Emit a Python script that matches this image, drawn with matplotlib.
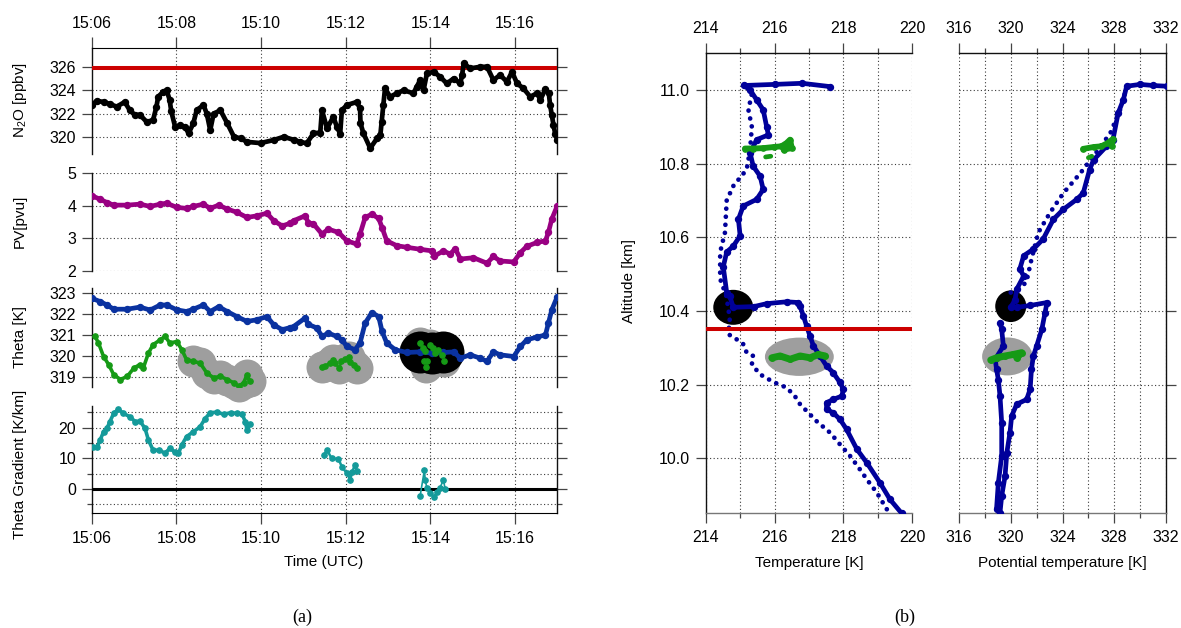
import numpy as np
import matplotlib
matplotlib.use('Agg')
import matplotlib.pyplot as plt
from matplotlib.patches import Ellipse
from matplotlib.ticker import MultipleLocator, FormatStrFormatter

plt.rcParams['font.family'] = ['Liberation Sans', 'DejaVu Sans']
plt.rcParams['mathtext.fontset'] = 'custom'
plt.rcParams['mathtext.rm'] = 'Liberation Sans'
plt.rcParams['mathtext.default'] = 'regular'

# ---------------- data: time series (minutes after 15:00 UTC) ----------------
time_ticks = [6, 8, 10, 12, 14, 16]
time_labels = ['15:06', '15:08', '15:10', '15:12', '15:14', '15:16']

n2o_t = [6.00, 6.12, 6.28, 6.43, 6.59, 6.78, 6.90, 7.02, 7.14, 7.30, 7.45, 7.53, 7.57,
         7.69, 7.77, 7.84, 7.88, 7.97, 8.09, 8.20, 8.29, 8.40, 8.48, 8.64, 8.72, 8.80,
         8.88, 9.04, 9.20, 9.36, 9.52, 9.67, 9.99, 10.30, 10.54, 10.78, 10.93, 11.08,
         11.24, 11.40, 11.44, 11.56, 11.71, 11.79, 11.87, 11.91, 12.03, 12.26, 12.34,
         12.35, 12.42, 12.58, 12.74, 12.82, 12.85, 12.89, 12.93, 13.05, 13.21, 13.37,
         13.60, 13.68, 13.76, 13.84, 13.92, 14.08, 14.23, 14.39, 14.55, 14.71, 14.75,
         14.79, 14.94, 15.18, 15.34, 15.49, 15.65, 15.81, 15.93, 16.05, 16.20, 16.36,
         16.52, 16.60, 16.72, 16.80, 16.83, 16.87, 16.91, 16.95, 17.00]
n2o_v = [322.74, 323.10, 323.00, 322.83, 322.60, 323.00, 322.30, 321.90, 321.90, 321.30,
         321.46, 322.60, 323.45, 323.87, 324.00, 323.20, 322.20, 320.90, 321.00, 320.90,
         320.33, 321.18, 322.30, 322.74, 322.00, 320.60, 322.00, 322.30, 321.20, 320.04,
         319.90, 319.60, 319.50, 319.76, 320.04, 319.76, 319.60, 319.48, 320.33, 320.40,
         322.30, 320.76, 321.74, 320.90, 320.30, 322.30, 322.74, 323.00, 322.46, 321.18,
         320.33, 319.06, 319.90, 320.20, 321.30, 322.74, 324.16, 323.45, 323.74, 324.00,
         323.74, 324.30, 324.87, 324.00, 325.44, 325.57, 325.15, 324.58, 325.00, 324.58,
         325.30, 326.30, 325.86, 326.00, 326.00, 324.87, 325.30, 324.72, 325.57, 324.58,
         324.16, 323.45, 323.74, 323.20, 324.10, 323.74, 322.74, 321.90, 321.04, 320.30,
         319.76]
n2o_threshold = 325.9

pv_t = [6.00, 6.20, 6.36, 6.52, 6.84, 7.14, 7.38, 7.62, 7.77, 8.01, 8.24, 8.40, 8.64,
        8.80, 9.00, 9.20, 9.43, 9.67, 9.90, 10.14, 10.30, 10.50, 10.69, 10.77, 11.04,
        11.12, 11.24, 11.44, 11.59, 11.83, 12.03, 12.26, 12.34, 12.46, 12.62, 12.78,
        12.86, 12.97, 13.21, 13.45, 13.76, 14.04, 14.08, 14.31, 14.47, 14.59, 14.71,
        15.02, 15.34, 15.49, 15.65, 15.97, 16.13, 16.28, 16.52, 16.72, 16.79, 16.87, 17.00]
pv_v = [4.31, 4.20, 4.10, 4.02, 4.02, 4.05, 3.98, 4.05, 4.08, 3.95, 3.92, 3.98, 4.05,
        3.92, 4.02, 3.90, 3.80, 3.64, 3.69, 3.77, 3.54, 3.38, 3.46, 3.54, 3.69, 3.48,
        3.44, 3.13, 3.28, 3.18, 2.92, 2.82, 3.13, 3.64, 3.74, 3.61, 3.33, 2.92, 2.77,
        2.72, 2.66, 2.61, 2.44, 2.61, 2.51, 2.68, 2.36, 2.40, 2.23, 2.44, 2.30, 2.27,
        2.56, 2.75, 2.87, 2.92, 3.18, 3.59, 4.00]

theta_t = [6.00, 6.20, 6.36, 6.52, 6.84, 7.14, 7.38, 7.62, 7.77, 8.01, 8.24, 8.40, 8.64,
           8.80, 9.00, 9.20, 9.43, 9.67, 9.90, 10.14, 10.30, 10.50, 10.69, 10.77, 11.04,
           11.12, 11.32, 11.44, 11.59, 11.79, 11.91, 12.03, 12.22, 12.34, 12.46, 12.62,
           12.78, 12.86, 12.97, 13.17, 13.45, 13.76, 14.04, 14.31, 14.55, 14.71, 14.94,
           15.18, 15.34, 15.49, 15.65, 15.97, 16.13, 16.28, 16.52, 16.72, 16.79, 16.87, 17.00]
theta_v = [322.74, 322.58, 322.42, 322.22, 322.22, 322.32, 322.18, 322.42, 322.42, 322.19,
           322.11, 322.22, 322.42, 322.11, 322.34, 322.11, 321.87, 321.64, 321.72, 321.87,
           321.48, 321.25, 321.35, 321.40, 321.80, 321.50, 321.33, 320.93, 321.09, 320.93,
           320.77, 320.46, 320.30, 320.62, 321.56, 322.06, 321.87, 321.17, 320.62, 320.30,
           320.17, 320.20, 320.14, 320.17, 320.20, 319.90, 320.06, 319.90, 319.75, 320.20,
           320.06, 319.98, 320.46, 320.77, 320.90, 321.00, 321.56, 322.19, 322.82]

# in-situ theta (green), three stretches
green1_t = [6.08, 6.16, 6.28, 6.40, 6.52, 6.68, 6.84, 7.00, 7.14, 7.22, 7.34, 7.45, 7.62,
            7.73, 7.85, 8.01, 8.13, 8.24, 8.40, 8.56, 8.72, 8.88, 9.04, 9.20, 9.36, 9.47,
            9.59, 9.67, 9.73]
green1_v = [320.93, 320.62, 319.98, 319.60, 319.12, 318.89, 319.04, 319.44, 319.60, 319.44,
            320.14, 320.54, 320.77, 320.93, 320.62, 320.69, 320.30, 319.83, 319.75, 319.67,
            319.20, 318.97, 319.04, 318.89, 318.73, 318.57, 318.73, 319.12, 318.80]
green2_t = [11.44, 11.52, 11.62, 11.71, 11.75, 11.85, 11.90, 11.99, 12.07, 12.11, 12.19, 12.26]
green2_v = [319.47, 319.55, 319.67, 319.80, 319.65, 319.44, 319.75, 319.86, 319.98, 319.70,
            319.60, 319.44]
green3_t = [13.76, 13.82, 13.84, 13.88, 13.90, 13.92, 14.00, 14.06, 14.12, 14.19, 14.27, 14.33]
green3_v = [320.62, 320.38, 319.75, 320.22, 319.50, 319.75, 320.54, 320.38, 320.14, 320.30,
            320.06, 319.75]
cloud1_start = 8.3          # start of the first highlighted stretch
black_span = (13.7, 14.4)   # stretch marked in black

grad1_t = [6.04, 6.12, 6.20, 6.28, 6.36, 6.43, 6.52, 6.63, 6.75, 6.90, 7.03, 7.14, 7.26,
           7.34, 7.45, 7.60, 7.73, 7.85, 7.97, 8.05, 8.13, 8.24, 8.40, 8.56, 8.68, 8.80,
           8.96, 9.12, 9.28, 9.43, 9.55, 9.63, 9.67, 9.73]
grad1_v = [13.8, 13.6, 16.0, 18.7, 19.8, 22.0, 24.7, 26.0, 24.7, 23.6, 22.0, 22.2, 19.8,
           16.0, 12.7, 12.7, 11.7, 13.3, 12.0, 11.7, 14.4, 17.1, 18.7, 20.3, 23.0, 24.9,
           25.1, 24.4, 24.9, 24.7, 24.5, 22.0, 19.3, 21.1]
grad2_t = [11.48, 11.56, 11.67, 11.83, 11.91, 12.03, 12.11, 12.15, 12.22, 12.26]
grad2_v = [11.1, 12.7, 10.0, 9.8, 7.3, 5.1, 3.0, 5.5, 7.9, 6.0]
grad3_t = [13.76, 13.86, 13.88, 13.92, 14.00, 14.08, 14.15, 14.23, 14.31, 14.35]
grad3_v = [-2.2, 6.2, 3.0, 0.2, -1.4, -2.5, -1.0, 0.5, 3.0, 0.0]

# ---------------- data: vertical profiles ----------------
prof_T_a = [219.69, 219.35, 219.06, 218.68, 218.39, 218.09, 217.90, 217.70, 217.51, 217.51,
            217.70, 217.95, 218.00, 217.90, 217.70, 217.51, 217.32, 217.13, 217.03, 216.93,
            216.84, 216.74, 216.69, 216.35, 215.77, 215.40, 214.80, 214.70, 214.61, 214.51,
            214.61, 214.80, 215.00, 214.95, 215.09, 215.48, 215.67, 215.58, 215.38, 215.29,
            215.48, 215.82, 215.77, 215.67, 215.48, 215.29, 215.10, 216.00, 216.80, 217.61]
prof_z_a = [9.851, 9.889, 9.934, 9.988, 10.025, 10.079, 10.106, 10.124, 10.133, 10.151,
            10.160, 10.169, 10.187, 10.206, 10.233, 10.251, 10.278, 10.305, 10.332, 10.359,
            10.386, 10.413, 10.423, 10.425, 10.420, 10.412, 10.410, 10.440, 10.450, 10.520,
            10.560, 10.576, 10.604, 10.649, 10.685, 10.703, 10.730, 10.766, 10.793, 10.829,
            10.865, 10.878, 10.900, 10.946, 10.973, 11.000, 11.012, 11.015, 11.018, 11.009]
prof_T_b = [219.26, 218.97, 218.68, 218.48, 218.19, 217.90, 217.61, 217.22, 216.98, 216.74,
            216.59, 216.35, 215.97, 215.58, 215.34, 215.38, 215.19, 215.09, 214.90, 214.66,
            214.70, 214.60, 214.42, 214.42, 214.56, 214.61, 214.80, 215.19, 215.29, 215.34,
            215.24, 215.34]
prof_z_b = [9.862, 9.907, 9.943, 9.970, 10.007, 10.038, 10.070, 10.101, 10.124, 10.147,
            10.169, 10.192, 10.207, 10.228, 10.255, 10.278, 10.287, 10.310, 10.323, 10.337,
            10.380, 10.440, 10.487, 10.560, 10.613, 10.700, 10.739, 10.784, 10.838, 10.900,
            10.946, 10.990]

prof_th_a = [319.17, 319.30, 319.56, 319.70, 319.94, 320.07, 320.46, 321.23, 321.50, 321.60,
             321.75, 322.00, 322.40, 322.65, 322.80, 321.50, 320.50, 320.00, 320.33, 320.46,
             321.00, 320.70, 321.00, 321.75, 322.50, 323.30, 324.07, 325.10, 325.60, 326.10,
             326.40, 327.40, 327.90, 328.30, 328.70, 328.96, 330.00, 331.00, 332.06]
prof_thz_a = [9.853, 9.898, 9.952, 10.016, 10.070, 10.115, 10.147, 10.160, 10.188, 10.242,
              10.278, 10.305, 10.350, 10.395, 10.423, 10.415, 10.410, 10.410, 10.430, 10.459,
              10.495, 10.514, 10.550, 10.568, 10.595, 10.649, 10.676, 10.703, 10.720, 10.784,
              10.810, 10.847, 10.865, 10.937, 10.973, 11.010, 11.015, 11.012, 11.010]
prof_th_b = [318.90, 319.04, 319.30, 319.30, 319.17, 319.04, 318.90, 318.80, 319.43, 319.30,
             319.17]
prof_thz_b = [9.862, 9.934, 10.007, 10.097, 10.169, 10.214, 10.242, 10.269, 10.305, 10.350,
              10.368]
prof_th_c = [320.00, 321.20, 321.60, 322.13, 323.04, 324.07, 325.40, 326.60, 327.70, 328.45,
             328.90]
prof_thz_c = [10.450, 10.477, 10.540, 10.613, 10.667, 10.720, 10.775, 10.830, 10.883, 10.946,
              11.000]

gT_hi = [215.14, 215.38, 215.67, 215.97, 216.20, 216.35, 216.45, 216.50, 216.26]
gz_hi = [10.841, 10.841, 10.842, 10.845, 10.847, 10.856, 10.865, 10.842, 10.838]
gT_hi2 = [215.74, 215.89]
gz_hi2 = [10.818, 10.820]
gT_lo = [215.92, 216.16, 216.45, 216.74, 217.03, 217.27, 217.47]
gz_lo = [10.273, 10.278, 10.269, 10.278, 10.273, 10.282, 10.278]
gth_hi = [325.60, 326.40, 327.00, 327.50, 327.90, 327.80]
gthz_hi = [10.840, 10.845, 10.847, 10.856, 10.867, 10.847]
gth_hi2 = [326.00, 326.26]
gthz_hi2 = [10.816, 10.820]
gth_lo = [318.45, 318.90, 319.56, 320.20, 320.85, 320.46]
gthz_lo = [10.267, 10.273, 10.278, 10.282, 10.287, 10.273]

tropopause_alt = 10.352
black_T, black_z = 214.80, 10.410
black_th, black_thz = 320.00, 10.413

# ---------------- figure layout ----------------
W, H = 1181, 628
fig = plt.figure(figsize=(W / 100, H / 100), dpi=100)


def rect(x0, y0, x1, y1):
    return [x0 / W, 1 - y1 / H, (x1 - x0) / W, (y1 - y0) / H]


def px2pt(p):
    return p * 0.72


BLUE_L = '#0a32a0'
BLUE_R = '#00009a'
PURPLE = '#990082'
GREEN = '#169a16'
TEAL = '#149a9a'
RED = '#cc0000'
GREY = '#9e9e9e'
GRID = dict(linestyle=(0, (1, 2.2)), color='#3a3a3a', linewidth=0.8)
TICKC = '#444444'
DENSE = dict(linestyle='-', lw=3.4, marker='o', ms=4.3, solid_capstyle='round',
             solid_joinstyle='round')

XL, XR = 91.7, 557.3
ax_bg = fig.add_axes(rect(XL, 48, XR, 513.3))
ax_bg.set_xlim(6, 17)
ax_bg.set_ylim(0, 1)
ax_bg.axis('off')
for t in time_ticks[1:]:
    ax_bg.axvline(t, **GRID)

ax_n2o = fig.add_axes(rect(XL, 48, XR, 154))
ax_pv = fig.add_axes(rect(XL, 173.3, XR, 270.7))
ax_th = fig.add_axes(rect(XL, 288.5, XR, 386.7))
ax_gr = fig.add_axes(rect(XL, 406, XR, 513.3))

for ax in (ax_n2o, ax_pv, ax_th, ax_gr):
    ax.set_facecolor('none')
    ax.set_xlim(6, 17)
    ax.set_xticks(time_ticks)
    ax.set_xticklabels(time_labels)
    for s in ('top', 'bottom'):
        ax.spines[s].set_visible(False)
    for s in ('left', 'right'):
        ax.spines[s].set_linewidth(1.0)
        ax.spines[s].set_color('#111111')
    ax.tick_params(axis='y', which='major', direction='out', left=True, right=True,
                   labelleft=True, labelright=False, length=px2pt(10), width=0.9,
                   color=TICKC, pad=4, labelsize=11.5)
    ax.tick_params(axis='y', which='minor', direction='out', left=True, right=True,
                   length=px2pt(5), width=0.9, color=TICKC)
    ax.tick_params(axis='x', which='both', top=False, bottom=False, labeltop=False,
                   labelbottom=False, direction='out', length=px2pt(11), width=0.9,
                   color=TICKC, pad=4.5, labelsize=11.5)
    ax.grid(axis='y', which='both', **GRID)
    ax.set_axisbelow(True)

ax_n2o.spines['top'].set_visible(True)
ax_n2o.tick_params(axis='x', top=True, labeltop=True)
ax_gr.spines['bottom'].set_visible(True)
ax_gr.tick_params(axis='x', bottom=True, labelbottom=True)

# N2O
ax_n2o.set_ylim(318.57, 327.6)
ax_n2o.set_yticks([320, 322, 324, 326])
ax_n2o.axhline(n2o_threshold, color=RED, lw=2.9, zorder=3)
ax_n2o.plot(n2o_t, n2o_v, color='black', zorder=4, **DENSE)

# PV
ax_pv.set_ylim(2, 5)
ax_pv.set_yticks([2, 3, 4, 5])
ax_pv.plot(pv_t, pv_v, color=PURPLE, zorder=4, **DENSE)

# Theta with highlighted stretches
ax_th.set_ylim(318.55, 323.2)
ax_th.set_yticks([319, 320, 321, 322, 323])
g1t = np.array(green1_t)
g1v = np.array(green1_v)
sel = g1t >= cloud1_start
hl_t = np.concatenate([g1t[sel], green2_t, green3_t])
hl_v = np.concatenate([g1v[sel], green2_v, green3_v])
ax_th.scatter(hl_t, hl_v, s=px2pt(32) ** 2, color=GREY, linewidths=0, zorder=2,
              clip_on=False)
tt = np.array(theta_t)
tv = np.array(theta_v)
bsel = (tt >= black_span[0]) & (tt <= black_span[1])
ax_th.scatter(tt[bsel], tv[bsel], s=px2pt(42) ** 2, color='black', linewidths=0,
              zorder=2.5, clip_on=False)
ax_th.plot(theta_t, theta_v, color=BLUE_L, zorder=4, **DENSE)
ax_th.plot(green1_t, green1_v, '-', color=GREEN, lw=2.6, marker='o', ms=3.8,
           solid_capstyle='round', zorder=5)
ax_th.plot(green2_t, green2_v, '-', color=GREEN, lw=1.8, marker='o', ms=3.8, zorder=5)
ax_th.plot(green3_t, green3_v, 'o', color=GREEN, ms=3.8, zorder=5)

# Theta gradient
ax_gr.set_ylim(-7.9, 27.1)
ax_gr.yaxis.set_major_locator(MultipleLocator(10))
ax_gr.yaxis.set_minor_locator(MultipleLocator(5))
ax_gr.axhline(0, color='black', lw=2.2, zorder=3)
ax_gr.plot(grad1_t, grad1_v, '-', color=TEAL, lw=2.6, marker='o', ms=3.8,
           solid_capstyle='round', zorder=4)
ax_gr.plot(grad2_t, grad2_v, '-', color=TEAL, lw=1.8, marker='o', ms=3.8, zorder=4)
ax_gr.plot(grad3_t, grad3_v, '-', color=TEAL, lw=1.2, marker='o', ms=3.8, zorder=4)

# ---------------- profiles ----------------
ZLIM = (9.851, 11.101)
ax_t = fig.add_axes(rect(705.7, 52.7, 912.3, 513.3))
ax_p = fig.add_axes(rect(959, 52.7, 1166, 513.3))

for ax in (ax_t, ax_p):
    ax.set_ylim(*ZLIM)
    ax.yaxis.set_major_locator(MultipleLocator(0.2))
    ax.yaxis.set_major_formatter(FormatStrFormatter('%.1f'))
    for s in ax.spines.values():
        s.set_linewidth(1.0)
        s.set_color('#111111')
    ax.spines['bottom'].set_color('#777777')
    ax.tick_params(axis='x', which='major', top=True, bottom=True, labeltop=True,
                   labelbottom=True, direction='out', length=px2pt(10), width=0.9,
                   color=TICKC, pad=5, labelsize=11.5)
    ax.tick_params(axis='x', which='minor', top=True, bottom=True, direction='out',
                   length=px2pt(5), width=0.9, color=TICKC)
    ax.grid(axis='x', which='both', **GRID)
    ax.grid(axis='y', which='major', **GRID)
    ax.set_axisbelow(True)

ax_t.set_xlim(214, 220)
ax_t.xaxis.set_major_locator(MultipleLocator(2))
ax_t.xaxis.set_minor_locator(MultipleLocator(1))
ax_t.spines['right'].set_visible(False)
ax_t.tick_params(axis='y', which='major', left=True, right=False, labelleft=True,
                 direction='out', length=px2pt(10), width=0.9, color=TICKC, pad=4,
                 labelsize=11.5)

ax_p.set_xlim(316, 332)
ax_p.xaxis.set_major_locator(MultipleLocator(4))
ax_p.xaxis.set_minor_locator(MultipleLocator(2))
ax_p.spines['left'].set_visible(False)
ax_p.tick_params(axis='y', which='major', left=False, right=True, labelleft=False,
                 labelright=False, direction='out', length=px2pt(10), width=0.9,
                 color=TICKC)

DOTS = dict(linestyle=(0, (0.01, 1.7)), dash_capstyle='round', lw=3.4)

# temperature profile
ax_t.add_patch(Ellipse((np.mean(gT_lo), np.mean(gz_lo)), 2.0, 0.104, color=GREY,
                       lw=0, zorder=2))
ax_t.add_patch(Ellipse((black_T, black_z), 1.16, 0.095, color='black', lw=0, zorder=2))
ax_t.plot(prof_T_a, prof_z_a, color=BLUE_R, zorder=4, **DENSE)
ax_t.plot(prof_T_b, prof_z_b, color=BLUE_R, zorder=4, **DOTS)
ax_t.axhline(tropopause_alt, color=RED, lw=2.9, zorder=5)
ax_t.plot(gT_hi, gz_hi, '-', color=GREEN, lw=4.2, marker='o', ms=3.8, zorder=6,
          solid_capstyle='round')
ax_t.plot(gT_hi2, gz_hi2, '-', color=GREEN, lw=3.4, zorder=6, solid_capstyle='round')
ax_t.plot(gT_lo, gz_lo, '-', color=GREEN, lw=5.0, marker='o', ms=4.0, zorder=6,
          solid_capstyle='round')

# potential temperature profile
ax_p.add_patch(Ellipse((np.mean(gth_lo), np.mean(gthz_lo)), 3.9, 0.103, color=GREY,
                       lw=0, zorder=2))
ax_p.add_patch(Ellipse((black_th, black_thz), 2.4, 0.086, color='black', lw=0,
                       zorder=2))
ax_p.plot(prof_th_a, prof_thz_a, color=BLUE_R, zorder=4, **DENSE)
ax_p.plot(prof_th_b, prof_thz_b, color=BLUE_R, zorder=4, **DENSE)
ax_p.plot(prof_th_c, prof_thz_c, color=BLUE_R, zorder=4, **DOTS)
ax_p.plot(gth_hi, gthz_hi, '-', color=GREEN, lw=4.2, marker='o', ms=3.8, zorder=6,
          solid_capstyle='round')
ax_p.plot(gth_hi2, gthz_hi2, '-', color=GREEN, lw=3.4, zorder=6, solid_capstyle='round')
ax_p.plot(gth_lo, gthz_lo, '-', color=GREEN, lw=5.0, marker='o', ms=4.0, zorder=6,
          solid_capstyle='round')

# ---------------- labels ----------------
def ftext(x, y, s, **kw):
    fig.text(x / W, 1 - y / H, s, ha='center', va='center', **kw)


ftext(20, 100, r'N$_2$O [ppbv]', rotation=90, fontsize=11)
ftext(20, 221.5, 'PV[pvu]', rotation=90, fontsize=11)
ftext(20, 337, 'Theta [K]', rotation=90, fontsize=11)
ftext(20, 464, 'Theta Gradient [K/km]', rotation=90, fontsize=11)
ftext(323.7, 561.7, 'Time (UTC)', fontsize=11)
ftext(809, 562.7, 'Temperature [K]', fontsize=11)
ftext(1062, 562.7, 'Potential temperature [K]', fontsize=11)
ftext(629, 281, 'Altitude [km]', rotation=90, fontsize=11)
ftext(302, 617, '(a)', fontsize=13, family=['Liberation Serif', 'DejaVu Serif'])
ftext(905, 617, '(b)', fontsize=13, family=['Liberation Serif', 'DejaVu Serif'])

fig.savefig('out.png', dpi=100)
